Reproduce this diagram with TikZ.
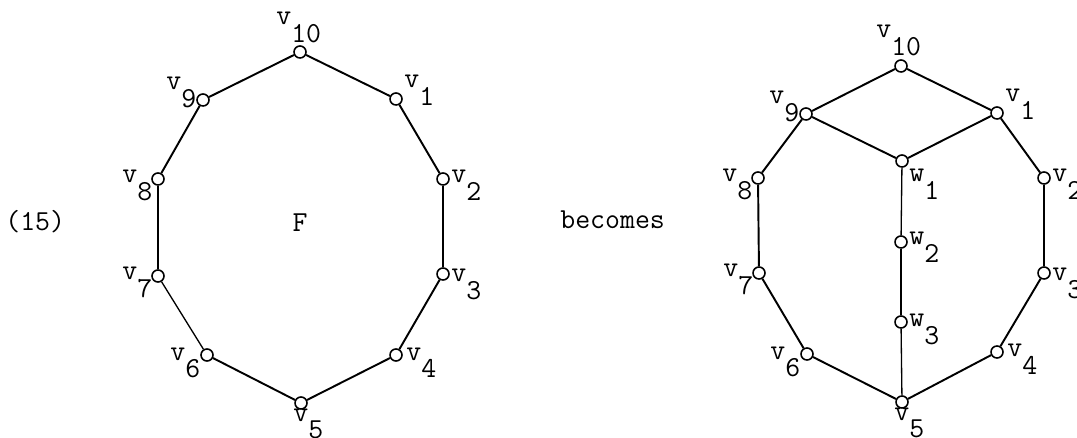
\documentclass[tikz,border=0pt]{standalone}
\newcommand{\vsub}[2]{#1\raisebox{-0.6em}{#2}}

\begin{document}
\begin{tikzpicture}[x=0.02cm, y=-0.02cm,
    vert/.style={circle, draw, line width=0.9pt, inner sep=0pt, minimum size=0.24cm},
    lbl/.style={anchor=base west, inner sep=0pt, font=\ttfamily\fontsize{16.5}{18}\selectfont},
    edge/.style={line width=1.1pt},
    thinedge/.style={line width=0.75pt}]
  \useasboundingbox (0,0) rectangle (1077,438);

  % left face
  \node[vert] (a10) at (300,52) {};
  \node[vert] (a1) at (396,99) {};
  \node[vert] (a2) at (443,179) {};
  \node[vert] (a3) at (443,274) {};
  \node[vert] (a4) at (396,355) {};
  \node[vert] (a5) at (301,403) {};
  \node[vert] (a6) at (207,355) {};
  \node[vert] (a7) at (158,276) {};
  \node[vert] (a8) at (158,179) {};
  \node[vert] (a9) at (203,100) {};
  \draw[edge] (a10) -- (a1);
  \draw[edge] (a1) -- (a2);
  \draw[edge] (a2) -- (a3);
  \draw[edge] (a3) -- (a4);
  \draw[edge] (a4) -- (a5);
  \draw[edge] (a5) -- (a6);
  \draw[thinedge] (a6) -- (a7);
  \draw[edge] (a7) -- (a8);
  \draw[edge] (a8) -- (a9);
  \draw[edge] (a9) -- (a10);
  \node[lbl] (la10) at (276,25) {\vsub{v}{10}};
  \node[lbl] (la1) at (404,88) {\vsub{v}{1}};
  \node[lbl] (la2) at (451,183) {\vsub{v}{2}};
  \node[lbl] (la3) at (451,282) {\vsub{v}{3}};
  \node[lbl] (la4) at (406,360) {\vsub{v}{4}};
  \node[lbl] (la5) at (293,421) {\vsub{v}{5}};
  \node[lbl] (la6) at (170,360) {\vsub{v}{6}};
  \node[lbl] (la7) at (122,280) {\vsub{v}{7}};
  \node[lbl] (la8) at (122,183) {\vsub{v}{8}};
  \node[lbl] (la9) at (166,90) {\vsub{v}{9}};
  \node[lbl, anchor=base] (face) at (300,232) {F};

  \node[lbl] (num) at (5,231) {(15)};
  \node[lbl] (becomes) at (560,229) {becomes};

  % right face, split by the path w1 w2 w3
  \node[vert] (b10) at (901,66) {};
  \node[vert] (b1) at (997,113) {};
  \node[vert] (b2) at (1044,178) {};
  \node[vert] (b3) at (1044,273) {};
  \node[vert] (b4) at (997,352) {};
  \node[vert] (b5) at (902,402) {};
  \node[vert] (b6) at (807,354) {};
  \node[vert] (b7) at (759,273) {};
  \node[vert] (b8) at (758,178) {};
  \node[vert] (b9) at (806,114) {};
  \node[vert] (w1) at (902,161) {};
  \node[vert] (w2) at (901,242) {};
  \node[vert] (w3) at (901,322) {};
  \draw[edge] (b10) -- (b1);
  \draw[edge] (b1) -- (b2);
  \draw[edge] (b2) -- (b3);
  \draw[edge] (b3) -- (b4);
  \draw[edge] (b4) -- (b5);
  \draw[edge] (b5) -- (b6);
  \draw[edge] (b6) -- (b7);
  \draw[edge] (b7) -- (b8);
  \draw[edge] (b8) -- (b9);
  \draw[edge] (b9) -- (b10);
  \draw[edge] (b9) -- (w1);
  \draw[edge] (b1) -- (w1);
  \draw[thinedge] (w1) -- (w2);
  \draw[thinedge] (w2) -- (w3);
  \draw[thinedge] (w3) -- (b5);
  \node[lbl] (lb10) at (876,38) {\vsub{v}{10}};
  \node[lbl] (lb1) at (1005,102) {\vsub{v}{1}};
  \node[lbl] (lb2) at (1052,182) {\vsub{v}{2}};
  \node[lbl] (lb3) at (1052,281) {\vsub{v}{3}};
  \node[lbl] (lb4) at (1007,357) {\vsub{v}{4}};
  \node[lbl] (lb5) at (894,420) {\vsub{v}{5}};
  \node[lbl] (lb6) at (770,359) {\vsub{v}{6}};
  \node[lbl] (lb7) at (723,277) {\vsub{v}{7}};
  \node[lbl] (lb8) at (722,182) {\vsub{v}{8}};
  \node[lbl] (lb9) at (769,104) {\vsub{v}{9}};
  \node[lbl] (lw1) at (909,182) {\vsub{w}{1}};
  \node[lbl] (lw2) at (909,245) {\vsub{w}{2}};
  \node[lbl] (lw3) at (909,327) {\vsub{w}{3}};
\end{tikzpicture}
\end{document}
